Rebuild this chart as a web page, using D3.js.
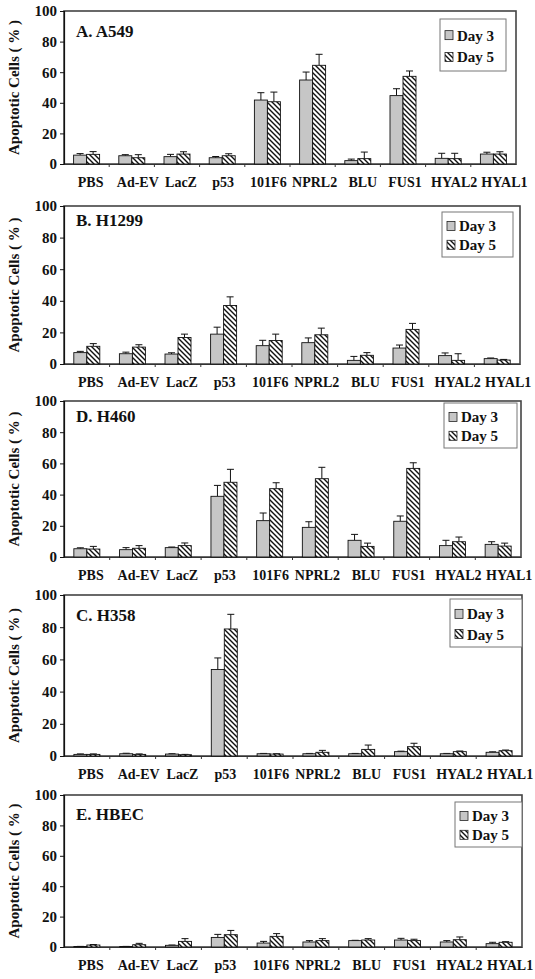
<!DOCTYPE html>
<html>
<head>
<meta charset="utf-8">
<script src="https://cdn.jsdelivr.net/npm/d3@7/dist/d3.min.js"></script>
<style>
  html, body { margin: 0; padding: 0; background: #fff; }
  svg { display: block; }
  text { font-family: "Liberation Serif", "Times New Roman", serif; font-weight: bold; fill: #111; }
</style>
</head>
<body>
<svg id="chart" width="535" height="979"></svg>
<script>
// ---------------- DATA ----------------
const categories = ["PBS", "Ad-EV", "LacZ", "p53", "101F6", "NPRL2", "BLU", "FUS1", "HYAL2", "HYAL1"];
const seriesNames = ["Day 3", "Day 5"];
const yTicks = [0, 20, 40, 60, 80, 100];
const yLabel = "Apoptotic Cells ( % )";
const panelTitles = ["A. A549", "B. H1299", "D. H460", "C. H358", "E. HBEC"];

const a549Day3    = [5.8, 5.4, 4.8, 4.1, 41.8, 54.9, 2.2, 44.7, 3.7, 6.5];
const a549Day3Err = [1.0, 0.7, 1.5, 0.8, 4.8, 5.2, 1.0, 4.5, 3.3, 1.2];
const a549Day5    = [6.3, 4.1, 6.5, 5.4, 40.7, 64.5, 3.5, 57.3, 3.5, 6.5];
const a549Day5Err = [1.8, 2.0, 1.5, 1.3, 6.3, 7.2, 4.3, 3.5, 3.5, 1.5];

const h1299Day3    = [7.2, 6.5, 6.3, 18.9, 11.6, 13.5, 2.3, 10.1, 5.3, 3.4];
const h1299Day3Err = [0.8, 1.0, 0.8, 4.4, 3.4, 3.0, 2.5, 1.9, 1.7, 0.4];
const h1299Day5    = [11.2, 10.7, 16.8, 37.0, 14.9, 18.5, 5.5, 21.9, 2.3, 2.5];
const h1299Day5Err = [1.7, 1.5, 2.1, 5.5, 4.0, 4.2, 1.7, 3.8, 4.2, 0.4];

const h460Day3    = [5.3, 4.7, 6.0, 38.9, 23.3, 19.0, 10.7, 22.9, 7.3, 8.1];
const h460Day3Err = [0.6, 1.3, 0.4, 7.0, 4.9, 3.6, 3.8, 3.4, 3.4, 1.7];
const h460Day5    = [5.1, 5.6, 7.3, 47.9, 43.8, 50.2, 6.8, 56.8, 9.8, 7.0];
const h460Day5Err = [1.7, 1.7, 1.7, 8.3, 3.8, 7.3, 2.1, 3.6, 3.0, 1.9];

const h358Day3    = [1.0, 1.4, 1.2, 53.7, 1.4, 1.4, 1.4, 2.7, 1.4, 2.3];
const h358Day3Err = [0.3, 0.3, 0.2, 7.2, 0.2, 0.2, 0.2, 0.3, 0.2, 0.3];
const h358Day5    = [1.0, 1.0, 0.8, 78.9, 1.2, 2.3, 4.1, 5.8, 2.7, 3.3];
const h358Day5Err = [0.3, 0.3, 0.2, 9.1, 0.2, 1.2, 2.7, 2.1, 0.4, 0.4];

const hbecDay3    = [0.3, 0.3, 1.1, 6.3, 2.6, 3.3, 4.2, 4.6, 3.3, 2.2];
const hbecDay3Err = [0.1, 0.1, 0.2, 2.0, 1.1, 0.9, 0.2, 1.1, 0.9, 0.9];
const hbecDay5    = [1.3, 1.5, 3.7, 8.1, 7.0, 4.2, 4.6, 4.2, 4.8, 3.1];
const hbecDay5Err = [0.3, 0.9, 1.8, 2.8, 1.8, 1.3, 0.9, 0.9, 1.8, 0.4];

const panelValues = [
  [a549Day3, a549Day3Err, a549Day5, a549Day5Err],
  [h1299Day3, h1299Day3Err, h1299Day5, h1299Day5Err],
  [h460Day3, h460Day3Err, h460Day5, h460Day5Err],
  [h358Day3, h358Day3Err, h358Day5, h358Day5Err],
  [hbecDay3, hbecDay3Err, hbecDay5, hbecDay5Err]
];

// ---------------- LAYOUT ----------------
const layout = [
  { top: 11,  bottom: 164, left: 64, right: 516, lx: 440, ly: 19,  lw: 66, lh: 52, ty: 37 },
  { top: 206, bottom: 364, left: 64, right: 520, lx: 442, ly: 212, lw: 71, lh: 45, ty: 226 },
  { top: 401, bottom: 557, left: 64, right: 521, lx: 444, ly: 403, lw: 73, lh: 45, ty: 422 },
  { top: 595, bottom: 756, left: 64, right: 522, lx: 450, ly: 599, lw: 72, lh: 48, ty: 621 },
  { top: 795, bottom: 947, left: 64, right: 522, lx: 455, ly: 802, lw: 67, lh: 45, ty: 820 }
];
// small horizontal nudges of category labels (px), as placed in the original figure
const labelNudge = [4, 6, 4, 1, 1, 2, 5, 2, 6, 11];

const svg = d3.select("#chart");
const defs = svg.append("defs");
const pat = defs.append("pattern")
  .attr("id", "hatch")
  .attr("patternUnits", "userSpaceOnUse")
  .attr("width", 5).attr("height", 5);
pat.append("rect").attr("width", 5).attr("height", 5).attr("fill", "#fff");
pat.append("path")
  .attr("d", "M-1,-1 L6,6 M-1,4 L1,6 M4,-1 L6,1")
  .attr("stroke", "#111").attr("stroke-width", 1.4);

const GRAY = "#c6c6c6";

panelValues.forEach((vals, pi) => {
  const L = layout[pi];
  const [d3v, d3e, d5v, d5e] = vals;
  const g = svg.append("g");

  const x = d3.scaleBand().domain(categories).range([L.left, L.right]).paddingInner(0).paddingOuter(0);
  const y = d3.scaleLinear().domain([0, 100]).range([L.bottom, L.top]);
  const bw = 13;

  // plot frame
  g.append("rect")
    .attr("x", L.left).attr("y", L.top)
    .attr("width", L.right - L.left).attr("height", L.bottom - L.top)
    .attr("fill", "none").attr("stroke", "#444").attr("stroke-width", 1.6);

  // y axis
  const yAxis = d3.axisLeft(y).tickValues(yTicks).tickSize(4).tickPadding(3);
  const ya = g.append("g").attr("transform", `translate(${L.left},0)`).call(yAxis);
  ya.select(".domain").attr("stroke", "#111").attr("stroke-width", 1.2);
  ya.selectAll(".tick line").attr("stroke", "#111");
  ya.selectAll(".tick text")
    .style("font-family", "'Liberation Serif', serif").style("font-weight", "bold")
    .style("font-size", "15px").attr("fill", "#111");

  // x axis
  const xAxis = d3.axisBottom(x).tickSize(0).tickPadding(13);
  const xa = g.append("g").attr("transform", `translate(0,${L.bottom})`).call(xAxis);
  xa.select(".domain").attr("stroke", "#333").attr("stroke-width", 1.2);
  xa.selectAll(".tick text")
    .attr("dx", (d, i) => labelNudge[i])
    .style("font-family", "'Liberation Serif', serif").style("font-weight", "bold")
    .style("font-size", "14px").attr("fill", "#111");
  // boundary ticks
  g.selectAll(".bt").data(categories.slice(1)).enter().append("line")
    .attr("x1", d => x(d)).attr("x2", d => x(d))
    .attr("y1", L.bottom).attr("y2", L.bottom + 3)
    .attr("stroke", "#333").attr("stroke-width", 1);

  // bars
  const series = [
    { v: d3v, e: d3e, fill: GRAY, off: -bw },
    { v: d5v, e: d5e, fill: "url(#hatch)", off: 0 }
  ];
  series.forEach(s => {
    const cx = c => x(c) + x.bandwidth() / 2 + s.off;
    g.selectAll(null).data(categories).enter().append("line")
      .attr("x1", (c) => cx(c) + bw / 2).attr("x2", (c) => cx(c) + bw / 2)
      .attr("y1", (c, i) => y(s.v[i])).attr("y2", (c, i) => y(s.v[i] + s.e[i]))
      .attr("stroke", "#111").attr("stroke-width", 1);
    g.selectAll(null).data(categories).enter().append("line")
      .attr("x1", (c) => cx(c) + bw / 2 - 3.5).attr("x2", (c) => cx(c) + bw / 2 + 3.5)
      .attr("y1", (c, i) => y(s.v[i] + s.e[i])).attr("y2", (c, i) => y(s.v[i] + s.e[i]))
      .attr("stroke", "#111").attr("stroke-width", 1);
    g.selectAll(null).data(categories).enter().append("rect")
      .attr("x", c => cx(c))
      .attr("y", (c, i) => y(s.v[i]))
      .attr("width", bw)
      .attr("height", (c, i) => y(0) - y(s.v[i]))
      .attr("fill", s.fill)
      .attr("stroke", "#111").attr("stroke-width", 0.9);
  });

  // title
  g.append("text").attr("x", L.left + 12).attr("y", L.ty)
    .style("font-size", "17px").text(panelTitles[pi]);

  // y label
  g.append("text")
    .attr("transform", `translate(19,${(L.top + L.bottom) / 2}) rotate(-90)`)
    .attr("text-anchor", "middle")
    .style("font-size", "15px").text(yLabel);

  // legend
  const lg = g.append("g");
  lg.append("rect").attr("x", L.lx).attr("y", L.ly).attr("width", L.lw).attr("height", L.lh)
    .attr("fill", "#fff").attr("stroke", "#777").attr("stroke-width", 1);
  seriesNames.forEach((name, si) => {
    const iy = L.ly + L.lh * (si === 0 ? 0.32 : 0.74);
    lg.append("rect").attr("x", L.lx + 5).attr("y", iy - 5).attr("width", 8).attr("height", 9)
      .attr("fill", si === 0 ? GRAY : "url(#hatch)").attr("stroke", "#222").attr("stroke-width", 0.8);
    lg.append("text").attr("x", L.lx + 17).attr("y", iy + 5)
      .style("font-size", "15px").text(name);
  });
});
</script>
</body>
</html>
